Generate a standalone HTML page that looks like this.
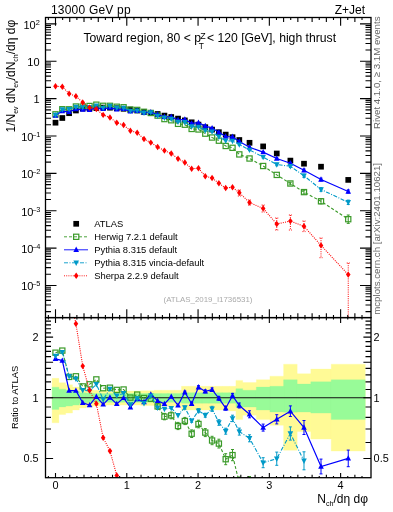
<!DOCTYPE html><html><head><meta charset="utf-8"><style>
html,body{margin:0;padding:0;background:#fff;overflow:hidden;}
svg{display:block;font-family:"Liberation Sans", sans-serif;will-change:transform;}
</style></head><body><svg width="393" height="512" viewBox="0 0 393 512"><defs><clipPath id="cu"><rect x="45.5" y="17.5" width="325.5" height="300.1"/></clipPath><clipPath id="cr"><rect x="45.5" y="317.6" width="325.5" height="160.09999999999997"/></clipPath></defs><path d="M52.10,378.33H58.90V422.75H52.10ZM58.90,382.72H65.71V414.54H58.90ZM65.71,384.81H72.52V413.07H65.71ZM72.52,387.10H79.33V409.99H72.52ZM79.33,388.66H86.14V408.00H79.33ZM86.14,389.46H92.94V407.02H86.14ZM92.94,390.25H99.75V406.06H92.94ZM99.75,390.66H106.56V405.58H99.75ZM106.56,391.06H113.37V405.10H106.56ZM113.37,391.06H120.18V405.10H113.37ZM120.18,391.06H126.98V405.10H120.18ZM126.98,391.06H133.79V405.10H126.98ZM133.79,391.06H140.60V405.10H133.79ZM140.60,390.66H147.41V405.58H140.60ZM147.41,390.66H154.22V405.58H147.41ZM154.22,390.25H161.02V406.06H154.22ZM161.02,390.25H167.83V406.06H161.02ZM167.83,390.25H174.64V406.06H167.83ZM174.64,390.25H181.45V406.06H174.64ZM181.45,386.33H188.26V409.99H181.45ZM188.26,386.33H195.06V409.99H188.26ZM195.06,386.33H201.87V409.99H195.06ZM201.87,386.33H208.68V409.99H201.87ZM208.68,386.33H215.49V409.99H208.68ZM215.49,386.33H222.30V409.99H215.49ZM222.30,386.33H229.10V409.99H222.30ZM229.10,386.33H235.91V411.01H229.10ZM235.91,380.39H242.72V419.55H235.91ZM242.72,382.57H256.34V415.18H242.72ZM256.34,379.68H269.95V419.55H256.34ZM269.95,376.19H283.57V425.35H269.95ZM283.57,364.19H297.18V450.30H283.57ZM297.18,373.63H310.80V431.57H297.18ZM310.80,369.09H331.22V439.09H310.80ZM331.22,364.19H365.27V451.10H331.22Z" fill="#fffa96" stroke="#fffa96" stroke-width="0.3" clip-path="url(#cr)"/><path d="M52.10,387.18H58.90V409.39H52.10ZM58.90,389.14H65.71V406.93H58.90ZM65.71,390.25H72.52V406.06H65.71ZM72.52,391.06H79.33V405.10H72.52ZM79.33,392.70H86.14V403.22H79.33ZM86.14,393.11H92.94V402.75H86.14ZM92.94,393.53H99.75V402.29H92.94ZM99.75,393.53H106.56V402.29H99.75ZM106.56,393.53H113.37V402.29H106.56ZM113.37,393.53H120.18V402.29H113.37ZM120.18,393.53H126.98V402.29H120.18ZM126.98,393.53H133.79V402.29H126.98ZM133.79,393.53H140.60V402.29H133.79ZM140.60,393.53H147.41V402.29H140.60ZM147.41,393.53H154.22V402.29H147.41ZM154.22,393.53H161.02V402.29H154.22ZM161.02,393.53H167.83V402.29H161.02ZM167.83,393.53H174.64V402.29H167.83ZM174.64,393.53H181.45V402.29H174.64ZM181.45,392.70H188.26V403.22H181.45ZM188.26,392.70H195.06V403.22H188.26ZM195.06,392.70H201.87V403.22H195.06ZM201.87,392.70H208.68V403.22H201.87ZM208.68,392.70H215.49V403.22H208.68ZM215.49,392.70H222.30V403.22H215.49ZM222.30,392.70H229.10V403.22H222.30ZM229.10,392.70H235.91V403.22H229.10ZM235.91,388.66H242.72V407.02H235.91ZM242.72,390.25H256.34V407.02H242.72ZM256.34,387.10H269.95V409.99H256.34ZM269.95,386.33H283.57V412.03H269.95ZM283.57,379.82H297.18V412.13H283.57ZM297.18,384.05H310.80V412.03H297.18ZM310.80,381.84H331.22V413.07H310.80ZM331.22,379.82H365.27V419.55H331.22Z" fill="#98fb98" stroke="#98fb98" stroke-width="0.3" clip-path="url(#cr)"/><path d="M45.5,397.80H371.0" stroke="#111" stroke-width="1.1"/><g clip-path="url(#cu)"><rect x="52.65" y="119.85" width="5.7" height="5.7" fill="#000"/><rect x="59.46" y="115.15" width="5.7" height="5.7" fill="#000"/><rect x="66.27" y="110.35" width="5.7" height="5.7" fill="#000"/><rect x="73.07" y="107.65" width="5.7" height="5.7" fill="#000"/><rect x="79.88" y="105.75" width="5.7" height="5.7" fill="#000"/><rect x="86.69" y="105.65" width="5.7" height="5.7" fill="#000"/><rect x="93.50" y="105.25" width="5.7" height="5.7" fill="#000"/><rect x="100.31" y="104.75" width="5.7" height="5.7" fill="#000"/><rect x="107.11" y="104.85" width="5.7" height="5.7" fill="#000"/><rect x="113.92" y="105.35" width="5.7" height="5.7" fill="#000"/><rect x="120.73" y="105.95" width="5.7" height="5.7" fill="#000"/><rect x="127.54" y="106.75" width="5.7" height="5.7" fill="#000"/><rect x="134.35" y="107.65" width="5.7" height="5.7" fill="#000"/><rect x="141.15" y="108.95" width="5.7" height="5.7" fill="#000"/><rect x="147.96" y="109.95" width="5.7" height="5.7" fill="#000"/><rect x="154.77" y="111.15" width="5.7" height="5.7" fill="#000"/><rect x="161.58" y="112.75" width="5.7" height="5.7" fill="#000"/><rect x="168.39" y="114.15" width="5.7" height="5.7" fill="#000"/><rect x="175.19" y="115.75" width="5.7" height="5.7" fill="#000"/><rect x="182.00" y="117.55" width="5.7" height="5.7" fill="#000"/><rect x="188.81" y="119.45" width="5.7" height="5.7" fill="#000"/><rect x="195.62" y="121.75" width="5.7" height="5.7" fill="#000"/><rect x="202.43" y="124.35" width="5.7" height="5.7" fill="#000"/><rect x="209.23" y="126.75" width="5.7" height="5.7" fill="#000"/><rect x="216.04" y="129.35" width="5.7" height="5.7" fill="#000"/><rect x="222.85" y="131.75" width="5.7" height="5.7" fill="#000"/><rect x="229.66" y="134.35" width="5.7" height="5.7" fill="#000"/><rect x="236.47" y="137.15" width="5.7" height="5.7" fill="#000"/><rect x="246.68" y="139.95" width="5.7" height="5.7" fill="#000"/><rect x="260.29" y="143.55" width="5.7" height="5.7" fill="#000"/><rect x="273.91" y="150.65" width="5.7" height="5.7" fill="#000"/><rect x="287.53" y="157.75" width="5.7" height="5.7" fill="#000"/><rect x="301.14" y="160.85" width="5.7" height="5.7" fill="#000"/><rect x="318.16" y="163.85" width="5.7" height="5.7" fill="#000"/><rect x="345.39" y="177.05" width="5.7" height="5.7" fill="#000"/></g><g clip-path="url(#cu)"><path d="M55.50,114.34L62.31,109.25L69.12,109.33L75.92,106.51L82.73,106.49L89.54,106.00L96.35,104.69L103.16,105.82L109.96,105.83L116.77,106.74L123.58,107.26L130.39,109.56L137.20,109.91L144.00,111.84L150.81,112.99L157.62,115.59L164.43,119.08L171.24,120.26L178.04,123.83L184.85,124.70L191.66,128.95L198.47,129.46L205.28,133.65L212.08,137.52L218.89,140.69L225.70,145.98L232.51,147.82L239.32,154.40L249.53,158.50L263.14,166.00L276.76,174.90L290.38,183.50L303.99,192.10L321.01,201.30L348.24,219.20" fill="none" stroke="#3a9a28" stroke-width="1.1" stroke-dasharray="3,2"/><path d="M348.24,215.00V223.40M346.74,215.00h3M346.74,223.40h3M321.01,198.80V203.80M319.51,198.80h3M319.51,203.80h3M303.99,190.30V193.90M302.49,190.30h3M302.49,193.90h3M290.38,182.20V184.80M288.88,182.20h3M288.88,184.80h3" stroke="#3a9a28" stroke-width="1" fill="none"/><rect x="52.90" y="111.74" width="5.2" height="5.2" fill="none" stroke="#3a9a28" stroke-width="1.2"/><rect x="59.71" y="106.65" width="5.2" height="5.2" fill="none" stroke="#3a9a28" stroke-width="1.2"/><rect x="66.52" y="106.73" width="5.2" height="5.2" fill="none" stroke="#3a9a28" stroke-width="1.2"/><rect x="73.32" y="103.91" width="5.2" height="5.2" fill="none" stroke="#3a9a28" stroke-width="1.2"/><rect x="80.13" y="103.89" width="5.2" height="5.2" fill="none" stroke="#3a9a28" stroke-width="1.2"/><rect x="86.94" y="103.40" width="5.2" height="5.2" fill="none" stroke="#3a9a28" stroke-width="1.2"/><rect x="93.75" y="102.09" width="5.2" height="5.2" fill="none" stroke="#3a9a28" stroke-width="1.2"/><rect x="100.56" y="103.22" width="5.2" height="5.2" fill="none" stroke="#3a9a28" stroke-width="1.2"/><rect x="107.36" y="103.23" width="5.2" height="5.2" fill="none" stroke="#3a9a28" stroke-width="1.2"/><rect x="114.17" y="104.14" width="5.2" height="5.2" fill="none" stroke="#3a9a28" stroke-width="1.2"/><rect x="120.98" y="104.66" width="5.2" height="5.2" fill="none" stroke="#3a9a28" stroke-width="1.2"/><rect x="127.79" y="106.96" width="5.2" height="5.2" fill="none" stroke="#3a9a28" stroke-width="1.2"/><rect x="134.60" y="107.31" width="5.2" height="5.2" fill="none" stroke="#3a9a28" stroke-width="1.2"/><rect x="141.40" y="109.24" width="5.2" height="5.2" fill="none" stroke="#3a9a28" stroke-width="1.2"/><rect x="148.21" y="110.39" width="5.2" height="5.2" fill="none" stroke="#3a9a28" stroke-width="1.2"/><rect x="155.02" y="112.99" width="5.2" height="5.2" fill="none" stroke="#3a9a28" stroke-width="1.2"/><rect x="161.83" y="116.48" width="5.2" height="5.2" fill="none" stroke="#3a9a28" stroke-width="1.2"/><rect x="168.64" y="117.66" width="5.2" height="5.2" fill="none" stroke="#3a9a28" stroke-width="1.2"/><rect x="175.44" y="121.23" width="5.2" height="5.2" fill="none" stroke="#3a9a28" stroke-width="1.2"/><rect x="182.25" y="122.10" width="5.2" height="5.2" fill="none" stroke="#3a9a28" stroke-width="1.2"/><rect x="189.06" y="126.35" width="5.2" height="5.2" fill="none" stroke="#3a9a28" stroke-width="1.2"/><rect x="195.87" y="126.86" width="5.2" height="5.2" fill="none" stroke="#3a9a28" stroke-width="1.2"/><rect x="202.68" y="131.05" width="5.2" height="5.2" fill="none" stroke="#3a9a28" stroke-width="1.2"/><rect x="209.48" y="134.92" width="5.2" height="5.2" fill="none" stroke="#3a9a28" stroke-width="1.2"/><rect x="216.29" y="138.09" width="5.2" height="5.2" fill="none" stroke="#3a9a28" stroke-width="1.2"/><rect x="223.10" y="143.38" width="5.2" height="5.2" fill="none" stroke="#3a9a28" stroke-width="1.2"/><rect x="229.91" y="145.22" width="5.2" height="5.2" fill="none" stroke="#3a9a28" stroke-width="1.2"/><rect x="236.72" y="151.80" width="5.2" height="5.2" fill="none" stroke="#3a9a28" stroke-width="1.2"/><rect x="246.93" y="155.90" width="5.2" height="5.2" fill="none" stroke="#3a9a28" stroke-width="1.2"/><rect x="260.54" y="163.40" width="5.2" height="5.2" fill="none" stroke="#3a9a28" stroke-width="1.2"/><rect x="274.16" y="172.30" width="5.2" height="5.2" fill="none" stroke="#3a9a28" stroke-width="1.2"/><rect x="287.78" y="180.90" width="5.2" height="5.2" fill="none" stroke="#3a9a28" stroke-width="1.2"/><rect x="301.39" y="189.50" width="5.2" height="5.2" fill="none" stroke="#3a9a28" stroke-width="1.2"/><rect x="318.41" y="198.70" width="5.2" height="5.2" fill="none" stroke="#3a9a28" stroke-width="1.2"/><rect x="345.64" y="216.60" width="5.2" height="5.2" fill="none" stroke="#3a9a28" stroke-width="1.2"/></g><g clip-path="url(#cu)"><path d="M55.50,115.47L62.31,111.10L69.12,111.87L75.92,109.17L82.73,109.53L89.54,109.85L96.35,107.90L103.16,108.82L109.96,107.64L116.77,109.33L123.58,108.82L130.39,111.36L137.20,110.74L144.00,112.58L150.81,112.17L157.62,114.54L164.43,116.73L171.24,116.78L178.04,120.01L184.85,119.38L191.66,123.39L198.47,122.64L205.28,126.01L212.08,128.10L218.89,132.31L225.70,136.53L232.51,136.79L239.32,141.40L249.53,147.30L263.14,152.10L276.76,158.50L290.38,163.30L303.99,170.30L321.01,179.50L348.24,191.50" fill="none" stroke="#0000ff" stroke-width="1.2"/><path d="M249.53,146.65V147.95M248.03,146.65h3M248.03,147.95h3M263.14,151.45V152.75M261.64,151.45h3M261.64,152.75h3M276.76,157.65V159.35M275.26,157.65h3M275.26,159.35h3M290.38,162.32V164.28M288.88,162.32h3M288.88,164.28h3M303.99,169.01V171.59M302.49,169.01h3M302.49,171.59h3M321.01,178.13V180.87M319.51,178.13h3M319.51,180.87h3M348.24,189.96V193.04M346.74,189.96h3M346.74,193.04h3" stroke="#0000ff" stroke-width="1" fill="none"/><path d="M55.50,112.27L58.30,117.67H52.70Z" fill="#0000ff"/><path d="M62.31,107.90L65.11,113.30H59.51Z" fill="#0000ff"/><path d="M69.12,108.67L71.92,114.07H66.32Z" fill="#0000ff"/><path d="M75.92,105.97L78.72,111.37H73.12Z" fill="#0000ff"/><path d="M82.73,106.33L85.53,111.73H79.93Z" fill="#0000ff"/><path d="M89.54,106.65L92.34,112.05H86.74Z" fill="#0000ff"/><path d="M96.35,104.70L99.15,110.10H93.55Z" fill="#0000ff"/><path d="M103.16,105.62L105.96,111.02H100.36Z" fill="#0000ff"/><path d="M109.96,104.44L112.76,109.84H107.16Z" fill="#0000ff"/><path d="M116.77,106.13L119.57,111.53H113.97Z" fill="#0000ff"/><path d="M123.58,105.62L126.38,111.02H120.78Z" fill="#0000ff"/><path d="M130.39,108.16L133.19,113.56H127.59Z" fill="#0000ff"/><path d="M137.20,107.54L140.00,112.94H134.40Z" fill="#0000ff"/><path d="M144.00,109.38L146.80,114.78H141.20Z" fill="#0000ff"/><path d="M150.81,108.97L153.61,114.37H148.01Z" fill="#0000ff"/><path d="M157.62,111.34L160.42,116.74H154.82Z" fill="#0000ff"/><path d="M164.43,113.53L167.23,118.93H161.63Z" fill="#0000ff"/><path d="M171.24,113.58L174.04,118.98H168.44Z" fill="#0000ff"/><path d="M178.04,116.81L180.84,122.21H175.24Z" fill="#0000ff"/><path d="M184.85,116.18L187.65,121.58H182.05Z" fill="#0000ff"/><path d="M191.66,120.19L194.46,125.59H188.86Z" fill="#0000ff"/><path d="M198.47,119.44L201.27,124.84H195.67Z" fill="#0000ff"/><path d="M205.28,122.81L208.08,128.21H202.48Z" fill="#0000ff"/><path d="M212.08,124.90L214.88,130.30H209.28Z" fill="#0000ff"/><path d="M218.89,129.11L221.69,134.51H216.09Z" fill="#0000ff"/><path d="M225.70,133.33L228.50,138.73H222.90Z" fill="#0000ff"/><path d="M232.51,133.59L235.31,138.99H229.71Z" fill="#0000ff"/><path d="M239.32,138.20L242.12,143.60H236.52Z" fill="#0000ff"/><path d="M249.53,144.10L252.33,149.50H246.73Z" fill="#0000ff"/><path d="M263.14,148.90L265.94,154.30H260.34Z" fill="#0000ff"/><path d="M276.76,155.30L279.56,160.70H273.96Z" fill="#0000ff"/><path d="M290.38,160.10L293.18,165.50H287.58Z" fill="#0000ff"/><path d="M303.99,167.10L306.79,172.50H301.19Z" fill="#0000ff"/><path d="M321.01,176.30L323.81,181.70H318.21Z" fill="#0000ff"/><path d="M348.24,188.30L351.04,193.70H345.44Z" fill="#0000ff"/></g><g clip-path="url(#cu)"><path d="M55.50,114.93L62.31,109.53L69.12,109.21L75.92,106.98L82.73,107.21L89.54,107.22L96.35,105.60L103.16,107.90L109.96,106.07L116.77,107.79L123.58,107.97L130.39,110.84L137.20,110.63L144.00,112.82L150.81,112.39L157.62,115.84L164.43,117.68L171.24,118.91L178.04,121.83L184.85,122.20L191.66,126.56L198.47,126.99L205.28,130.43L212.08,131.64L218.89,136.78L225.70,140.79L232.51,141.02L239.32,144.60L249.53,149.90L263.14,157.10L276.76,164.50L290.38,166.30L303.99,175.80L321.01,189.50L348.24,202.30" fill="none" stroke="#0099c8" stroke-width="1.1" stroke-dasharray="4,1.5,1,1.5"/><path d="M239.32,143.95V145.25M237.82,143.95h3M237.82,145.25h3M249.53,149.25V150.55M248.03,149.25h3M248.03,150.55h3M263.14,156.17V158.03M261.64,156.17h3M261.64,158.03h3M276.76,163.28V165.72M275.26,163.28h3M275.26,165.72h3M290.38,165.08V167.52M288.88,165.08h3M288.88,167.52h3M303.99,174.14V177.47M302.49,174.14h3M302.49,177.47h3M321.01,187.65V191.35M319.51,187.65h3M319.51,191.35h3M348.24,200.08V204.52M346.74,200.08h3M346.74,204.52h3" stroke="#0099c8" stroke-width="1" fill="none"/><path d="M55.50,118.13L58.30,112.73H52.70Z" fill="#0099c8"/><path d="M62.31,112.73L65.11,107.33H59.51Z" fill="#0099c8"/><path d="M69.12,112.41L71.92,107.01H66.32Z" fill="#0099c8"/><path d="M75.92,110.18L78.72,104.78H73.12Z" fill="#0099c8"/><path d="M82.73,110.41L85.53,105.01H79.93Z" fill="#0099c8"/><path d="M89.54,110.42L92.34,105.02H86.74Z" fill="#0099c8"/><path d="M96.35,108.80L99.15,103.40H93.55Z" fill="#0099c8"/><path d="M103.16,111.10L105.96,105.70H100.36Z" fill="#0099c8"/><path d="M109.96,109.27L112.76,103.87H107.16Z" fill="#0099c8"/><path d="M116.77,110.99L119.57,105.59H113.97Z" fill="#0099c8"/><path d="M123.58,111.17L126.38,105.77H120.78Z" fill="#0099c8"/><path d="M130.39,114.04L133.19,108.64H127.59Z" fill="#0099c8"/><path d="M137.20,113.83L140.00,108.43H134.40Z" fill="#0099c8"/><path d="M144.00,116.02L146.80,110.62H141.20Z" fill="#0099c8"/><path d="M150.81,115.59L153.61,110.19H148.01Z" fill="#0099c8"/><path d="M157.62,119.04L160.42,113.64H154.82Z" fill="#0099c8"/><path d="M164.43,120.88L167.23,115.48H161.63Z" fill="#0099c8"/><path d="M171.24,122.11L174.04,116.71H168.44Z" fill="#0099c8"/><path d="M178.04,125.03L180.84,119.63H175.24Z" fill="#0099c8"/><path d="M184.85,125.40L187.65,120.00H182.05Z" fill="#0099c8"/><path d="M191.66,129.76L194.46,124.36H188.86Z" fill="#0099c8"/><path d="M198.47,130.19L201.27,124.79H195.67Z" fill="#0099c8"/><path d="M205.28,133.63L208.08,128.23H202.48Z" fill="#0099c8"/><path d="M212.08,134.84L214.88,129.44H209.28Z" fill="#0099c8"/><path d="M218.89,139.98L221.69,134.58H216.09Z" fill="#0099c8"/><path d="M225.70,143.99L228.50,138.59H222.90Z" fill="#0099c8"/><path d="M232.51,144.22L235.31,138.82H229.71Z" fill="#0099c8"/><path d="M239.32,147.80L242.12,142.40H236.52Z" fill="#0099c8"/><path d="M249.53,153.10L252.33,147.70H246.73Z" fill="#0099c8"/><path d="M263.14,160.30L265.94,154.90H260.34Z" fill="#0099c8"/><path d="M276.76,167.70L279.56,162.30H273.96Z" fill="#0099c8"/><path d="M290.38,169.50L293.18,164.10H287.58Z" fill="#0099c8"/><path d="M303.99,179.00L306.79,173.60H301.19Z" fill="#0099c8"/><path d="M321.01,192.70L323.81,187.30H318.21Z" fill="#0099c8"/><path d="M348.24,205.50L351.04,200.10H345.44Z" fill="#0099c8"/></g><g clip-path="url(#cu)"><path d="M55.50,86.20L62.31,86.70L69.12,93.70L75.92,96.30L82.73,102.50L89.54,107.60L96.35,109.10L103.16,114.90L109.96,117.50L116.77,122.70L123.58,125.00L130.39,130.70L137.20,132.80L144.00,139.00L150.81,142.60L157.62,147.00L164.43,150.60L171.24,153.50L178.04,158.80L184.85,162.50L191.66,168.70L198.47,168.20L205.28,176.20L212.08,178.00L218.89,183.30L225.70,188.00L232.51,187.30L239.32,192.80L249.53,202.60L263.14,208.40L276.76,224.00L290.38,221.10L303.99,226.30L321.01,245.40L348.24,274.60" fill="none" stroke="#ff0000" stroke-width="1.1" stroke-dasharray="1,1.2"/><path d="M276.76,218V230M275.26,218h3M275.26,230h3M290.38,215V230M288.88,215h3M288.88,230h3M303.99,221V231.6M302.49,221h3M302.49,231.6h3M321.01,238V257.7M319.51,238h3M319.51,257.7h3M348.24,263V320M346.74,263h3M346.74,320h3M263.14,205V212M261.64,205h3M261.64,212h3M249.53,200V205M248.03,200h3M248.03,205h3M239.32,190V196M237.82,190h3M237.82,196h3" stroke="#ff0000" stroke-width="1" fill="none" stroke-dasharray="1,1.2"/><path d="M55.50,83.00L57.80,86.20L55.50,89.40L53.20,86.20Z" fill="#ff0000"/><path d="M62.31,83.50L64.61,86.70L62.31,89.90L60.01,86.70Z" fill="#ff0000"/><path d="M69.12,90.50L71.42,93.70L69.12,96.90L66.82,93.70Z" fill="#ff0000"/><path d="M75.92,93.10L78.22,96.30L75.92,99.50L73.62,96.30Z" fill="#ff0000"/><path d="M82.73,99.30L85.03,102.50L82.73,105.70L80.43,102.50Z" fill="#ff0000"/><path d="M89.54,104.40L91.84,107.60L89.54,110.80L87.24,107.60Z" fill="#ff0000"/><path d="M96.35,105.90L98.65,109.10L96.35,112.30L94.05,109.10Z" fill="#ff0000"/><path d="M103.16,111.70L105.46,114.90L103.16,118.10L100.86,114.90Z" fill="#ff0000"/><path d="M109.96,114.30L112.26,117.50L109.96,120.70L107.66,117.50Z" fill="#ff0000"/><path d="M116.77,119.50L119.07,122.70L116.77,125.90L114.47,122.70Z" fill="#ff0000"/><path d="M123.58,121.80L125.88,125.00L123.58,128.20L121.28,125.00Z" fill="#ff0000"/><path d="M130.39,127.50L132.69,130.70L130.39,133.90L128.09,130.70Z" fill="#ff0000"/><path d="M137.20,129.60L139.50,132.80L137.20,136.00L134.90,132.80Z" fill="#ff0000"/><path d="M144.00,135.80L146.30,139.00L144.00,142.20L141.70,139.00Z" fill="#ff0000"/><path d="M150.81,139.40L153.11,142.60L150.81,145.80L148.51,142.60Z" fill="#ff0000"/><path d="M157.62,143.80L159.92,147.00L157.62,150.20L155.32,147.00Z" fill="#ff0000"/><path d="M164.43,147.40L166.73,150.60L164.43,153.80L162.13,150.60Z" fill="#ff0000"/><path d="M171.24,150.30L173.54,153.50L171.24,156.70L168.94,153.50Z" fill="#ff0000"/><path d="M178.04,155.60L180.34,158.80L178.04,162.00L175.74,158.80Z" fill="#ff0000"/><path d="M184.85,159.30L187.15,162.50L184.85,165.70L182.55,162.50Z" fill="#ff0000"/><path d="M191.66,165.50L193.96,168.70L191.66,171.90L189.36,168.70Z" fill="#ff0000"/><path d="M198.47,165.00L200.77,168.20L198.47,171.40L196.17,168.20Z" fill="#ff0000"/><path d="M205.28,173.00L207.58,176.20L205.28,179.40L202.98,176.20Z" fill="#ff0000"/><path d="M212.08,174.80L214.38,178.00L212.08,181.20L209.78,178.00Z" fill="#ff0000"/><path d="M218.89,180.10L221.19,183.30L218.89,186.50L216.59,183.30Z" fill="#ff0000"/><path d="M225.70,184.80L228.00,188.00L225.70,191.20L223.40,188.00Z" fill="#ff0000"/><path d="M232.51,184.10L234.81,187.30L232.51,190.50L230.21,187.30Z" fill="#ff0000"/><path d="M239.32,189.60L241.62,192.80L239.32,196.00L237.02,192.80Z" fill="#ff0000"/><path d="M249.53,199.40L251.83,202.60L249.53,205.80L247.23,202.60Z" fill="#ff0000"/><path d="M263.14,205.20L265.44,208.40L263.14,211.60L260.84,208.40Z" fill="#ff0000"/><path d="M276.76,220.80L279.06,224.00L276.76,227.20L274.46,224.00Z" fill="#ff0000"/><path d="M290.38,217.90L292.68,221.10L290.38,224.30L288.08,221.10Z" fill="#ff0000"/><path d="M303.99,223.10L306.29,226.30L303.99,229.50L301.69,226.30Z" fill="#ff0000"/><path d="M321.01,242.20L323.31,245.40L321.01,248.60L318.71,245.40Z" fill="#ff0000"/><path d="M348.24,271.40L350.54,274.60L348.24,277.80L345.94,274.60Z" fill="#ff0000"/></g><g clip-path="url(#cr)"><path d="M55.50,352.70L62.31,350.60L69.12,376.90L75.92,376.30L82.73,386.40L89.54,384.30L96.35,379.40L103.16,388.20L109.96,387.70L116.77,389.90L123.58,389.50L130.39,397.60L137.20,394.60L144.00,398.00L150.81,398.80L157.62,406.40L164.43,416.60L171.24,415.40L178.04,426.00L184.85,421.00L191.66,433.70L198.47,424.00L205.28,432.60L212.08,440.50L218.89,443.60L225.70,459.20L232.51,455.10L239.32,483.00L249.53,482.50L263.14,503.54L276.76,513.25L290.38,521.34L303.99,551.01L321.01,584.46L348.24,609.81" fill="none" stroke="#3a9a28" stroke-width="1.1" stroke-dasharray="3,2"/><path d="M157.62,403.40V409.40M156.12,403.40h3M156.12,409.40h3M164.43,413.40V419.80M162.93,413.40h3M162.93,419.80h3M171.24,412.00V418.80M169.74,412.00h3M169.74,418.80h3M178.04,422.40V429.60M176.54,422.40h3M176.54,429.60h3M184.85,417.40V424.60M183.35,417.40h3M183.35,424.60h3M191.66,429.90V437.50M190.16,429.90h3M190.16,437.50h3M198.47,420.20V427.80M196.97,420.20h3M196.97,427.80h3M205.28,428.60V436.60M203.78,428.60h3M203.78,436.60h3M212.08,436.30V444.70M210.58,436.30h3M210.58,444.70h3M218.89,439.20V448.00M217.39,439.20h3M217.39,448.00h3M225.70,453.70V464.70M224.20,453.70h3M224.20,464.70h3M232.51,449.50V460.70M231.01,449.50h3M231.01,460.70h3M239.32,477.00V489.00M237.82,477.00h3M237.82,489.00h3M249.53,476.50V488.50M248.03,476.50h3M248.03,488.50h3M263.14,497.54V509.54M261.64,497.54h3M261.64,509.54h3M276.76,507.25V519.25M275.26,507.25h3M275.26,519.25h3M290.38,514.34V528.34M288.88,514.34h3M288.88,528.34h3M303.99,541.01V561.01M302.49,541.01h3M302.49,561.01h3M321.01,570.46V598.46M319.51,570.46h3M319.51,598.46h3M348.24,587.81V631.81M346.74,587.81h3M346.74,631.81h3" stroke="#3a9a28" stroke-width="1" fill="none"/><rect x="52.90" y="350.10" width="5.2" height="5.2" fill="none" stroke="#3a9a28" stroke-width="1.2"/><rect x="59.71" y="348.00" width="5.2" height="5.2" fill="none" stroke="#3a9a28" stroke-width="1.2"/><rect x="66.52" y="374.30" width="5.2" height="5.2" fill="none" stroke="#3a9a28" stroke-width="1.2"/><rect x="73.32" y="373.70" width="5.2" height="5.2" fill="none" stroke="#3a9a28" stroke-width="1.2"/><rect x="80.13" y="383.80" width="5.2" height="5.2" fill="none" stroke="#3a9a28" stroke-width="1.2"/><rect x="86.94" y="381.70" width="5.2" height="5.2" fill="none" stroke="#3a9a28" stroke-width="1.2"/><rect x="93.75" y="376.80" width="5.2" height="5.2" fill="none" stroke="#3a9a28" stroke-width="1.2"/><rect x="100.56" y="385.60" width="5.2" height="5.2" fill="none" stroke="#3a9a28" stroke-width="1.2"/><rect x="107.36" y="385.10" width="5.2" height="5.2" fill="none" stroke="#3a9a28" stroke-width="1.2"/><rect x="114.17" y="387.30" width="5.2" height="5.2" fill="none" stroke="#3a9a28" stroke-width="1.2"/><rect x="120.98" y="386.90" width="5.2" height="5.2" fill="none" stroke="#3a9a28" stroke-width="1.2"/><rect x="127.79" y="395.00" width="5.2" height="5.2" fill="none" stroke="#3a9a28" stroke-width="1.2"/><rect x="134.60" y="392.00" width="5.2" height="5.2" fill="none" stroke="#3a9a28" stroke-width="1.2"/><rect x="141.40" y="395.40" width="5.2" height="5.2" fill="none" stroke="#3a9a28" stroke-width="1.2"/><rect x="148.21" y="396.20" width="5.2" height="5.2" fill="none" stroke="#3a9a28" stroke-width="1.2"/><rect x="155.02" y="403.80" width="5.2" height="5.2" fill="none" stroke="#3a9a28" stroke-width="1.2"/><rect x="161.83" y="414.00" width="5.2" height="5.2" fill="none" stroke="#3a9a28" stroke-width="1.2"/><rect x="168.64" y="412.80" width="5.2" height="5.2" fill="none" stroke="#3a9a28" stroke-width="1.2"/><rect x="175.44" y="423.40" width="5.2" height="5.2" fill="none" stroke="#3a9a28" stroke-width="1.2"/><rect x="182.25" y="418.40" width="5.2" height="5.2" fill="none" stroke="#3a9a28" stroke-width="1.2"/><rect x="189.06" y="431.10" width="5.2" height="5.2" fill="none" stroke="#3a9a28" stroke-width="1.2"/><rect x="195.87" y="421.40" width="5.2" height="5.2" fill="none" stroke="#3a9a28" stroke-width="1.2"/><rect x="202.68" y="430.00" width="5.2" height="5.2" fill="none" stroke="#3a9a28" stroke-width="1.2"/><rect x="209.48" y="437.90" width="5.2" height="5.2" fill="none" stroke="#3a9a28" stroke-width="1.2"/><rect x="216.29" y="441.00" width="5.2" height="5.2" fill="none" stroke="#3a9a28" stroke-width="1.2"/><rect x="223.10" y="456.60" width="5.2" height="5.2" fill="none" stroke="#3a9a28" stroke-width="1.2"/><rect x="229.91" y="452.50" width="5.2" height="5.2" fill="none" stroke="#3a9a28" stroke-width="1.2"/><rect x="236.72" y="480.40" width="5.2" height="5.2" fill="none" stroke="#3a9a28" stroke-width="1.2"/><rect x="246.93" y="479.90" width="5.2" height="5.2" fill="none" stroke="#3a9a28" stroke-width="1.2"/><rect x="260.54" y="500.94" width="5.2" height="5.2" fill="none" stroke="#3a9a28" stroke-width="1.2"/><rect x="274.16" y="510.65" width="5.2" height="5.2" fill="none" stroke="#3a9a28" stroke-width="1.2"/><rect x="287.78" y="518.74" width="5.2" height="5.2" fill="none" stroke="#3a9a28" stroke-width="1.2"/><rect x="301.39" y="548.41" width="5.2" height="5.2" fill="none" stroke="#3a9a28" stroke-width="1.2"/><rect x="318.41" y="581.86" width="5.2" height="5.2" fill="none" stroke="#3a9a28" stroke-width="1.2"/><rect x="345.64" y="607.21" width="5.2" height="5.2" fill="none" stroke="#3a9a28" stroke-width="1.2"/></g><g clip-path="url(#cr)"><path d="M55.50,358.80L62.31,360.60L69.12,390.60L75.92,390.60L82.73,402.80L89.54,405.10L96.35,396.70L103.16,404.40L109.96,397.50L116.77,403.90L123.58,397.90L130.39,407.30L137.20,399.10L144.00,402.00L150.81,394.40L157.62,400.70L164.43,403.90L171.24,396.60L178.04,405.40L184.85,392.30L191.66,403.70L198.47,387.20L205.28,391.40L212.08,389.70L218.89,398.40L225.70,408.20L232.51,395.60L239.32,405.50L249.53,414.30L263.14,427.60L276.76,419.30L290.38,411.20L303.99,427.50L321.01,466.50L348.24,458.40" fill="none" stroke="#0000ff" stroke-width="1.2"/><path d="M184.85,391.10V393.50M183.35,391.10h3M183.35,393.50h3M191.66,402.50V404.90M190.16,402.50h3M190.16,404.90h3M198.47,385.70V388.70M196.97,385.70h3M196.97,388.70h3M205.28,389.90V392.90M203.78,389.90h3M203.78,392.90h3M212.08,387.90V391.50M210.58,387.90h3M210.58,391.50h3M218.89,396.40V400.40M217.39,396.40h3M217.39,400.40h3M225.70,406.20V410.20M224.20,406.20h3M224.20,410.20h3M232.51,393.40V397.80M231.01,393.40h3M231.01,397.80h3M239.32,403.00V408.00M237.82,403.00h3M237.82,408.00h3M249.53,410.80V417.80M248.03,410.80h3M248.03,417.80h3M263.14,424.10V431.10M261.64,424.10h3M261.64,431.10h3M276.76,414.70V423.90M275.26,414.70h3M275.26,423.90h3M290.38,405.90V416.50M288.88,405.90h3M288.88,416.50h3M303.99,420.50V434.50M302.49,420.50h3M302.49,434.50h3M321.01,459.10V473.90M319.51,459.10h3M319.51,473.90h3M348.24,450.10V466.70M346.74,450.10h3M346.74,466.70h3" stroke="#0000ff" stroke-width="1" fill="none"/><path d="M55.50,355.60L58.30,361.00H52.70Z" fill="#0000ff"/><path d="M62.31,357.40L65.11,362.80H59.51Z" fill="#0000ff"/><path d="M69.12,387.40L71.92,392.80H66.32Z" fill="#0000ff"/><path d="M75.92,387.40L78.72,392.80H73.12Z" fill="#0000ff"/><path d="M82.73,399.60L85.53,405.00H79.93Z" fill="#0000ff"/><path d="M89.54,401.90L92.34,407.30H86.74Z" fill="#0000ff"/><path d="M96.35,393.50L99.15,398.90H93.55Z" fill="#0000ff"/><path d="M103.16,401.20L105.96,406.60H100.36Z" fill="#0000ff"/><path d="M109.96,394.30L112.76,399.70H107.16Z" fill="#0000ff"/><path d="M116.77,400.70L119.57,406.10H113.97Z" fill="#0000ff"/><path d="M123.58,394.70L126.38,400.10H120.78Z" fill="#0000ff"/><path d="M130.39,404.10L133.19,409.50H127.59Z" fill="#0000ff"/><path d="M137.20,395.90L140.00,401.30H134.40Z" fill="#0000ff"/><path d="M144.00,398.80L146.80,404.20H141.20Z" fill="#0000ff"/><path d="M150.81,391.20L153.61,396.60H148.01Z" fill="#0000ff"/><path d="M157.62,397.50L160.42,402.90H154.82Z" fill="#0000ff"/><path d="M164.43,400.70L167.23,406.10H161.63Z" fill="#0000ff"/><path d="M171.24,393.40L174.04,398.80H168.44Z" fill="#0000ff"/><path d="M178.04,402.20L180.84,407.60H175.24Z" fill="#0000ff"/><path d="M184.85,389.10L187.65,394.50H182.05Z" fill="#0000ff"/><path d="M191.66,400.50L194.46,405.90H188.86Z" fill="#0000ff"/><path d="M198.47,384.00L201.27,389.40H195.67Z" fill="#0000ff"/><path d="M205.28,388.20L208.08,393.60H202.48Z" fill="#0000ff"/><path d="M212.08,386.50L214.88,391.90H209.28Z" fill="#0000ff"/><path d="M218.89,395.20L221.69,400.60H216.09Z" fill="#0000ff"/><path d="M225.70,405.00L228.50,410.40H222.90Z" fill="#0000ff"/><path d="M232.51,392.40L235.31,397.80H229.71Z" fill="#0000ff"/><path d="M239.32,402.30L242.12,407.70H236.52Z" fill="#0000ff"/><path d="M249.53,411.10L252.33,416.50H246.73Z" fill="#0000ff"/><path d="M263.14,424.40L265.94,429.80H260.34Z" fill="#0000ff"/><path d="M276.76,416.10L279.56,421.50H273.96Z" fill="#0000ff"/><path d="M290.38,408.00L293.18,413.40H287.58Z" fill="#0000ff"/><path d="M303.99,424.30L306.79,429.70H301.19Z" fill="#0000ff"/><path d="M321.01,463.30L323.81,468.70H318.21Z" fill="#0000ff"/><path d="M348.24,455.20L351.04,460.60H345.44Z" fill="#0000ff"/></g><g clip-path="url(#cr)"><path d="M55.50,355.90L62.31,352.10L69.12,376.30L75.92,378.80L82.73,390.30L89.54,390.90L96.35,384.30L103.16,399.40L109.96,389.00L116.77,395.60L123.58,393.30L130.39,404.50L137.20,398.50L144.00,403.30L150.81,395.60L157.62,407.70L164.43,409.00L171.24,408.10L178.04,415.20L184.85,407.50L191.66,420.80L198.47,410.70L205.28,415.20L212.08,408.80L218.89,422.50L225.70,431.20L232.51,418.40L239.32,431.60L249.53,438.30L263.14,462.70L276.76,458.70L290.38,433.50L303.99,460.80" fill="none" stroke="#0099c8" stroke-width="1.1" stroke-dasharray="4,1.5,1,1.5"/><path d="M184.85,406.00V409.00M183.35,406.00h3M183.35,409.00h3M191.66,419.30V422.30M190.16,419.30h3M190.16,422.30h3M198.47,408.70V412.70M196.97,408.70h3M196.97,412.70h3M205.28,413.20V417.20M203.78,413.20h3M203.78,417.20h3M212.08,406.30V411.30M210.58,406.30h3M210.58,411.30h3M218.89,419.70V425.30M217.39,419.70h3M217.39,425.30h3M225.70,428.20V434.20M224.20,428.20h3M224.20,434.20h3M232.51,415.20V421.60M231.01,415.20h3M231.01,421.60h3M239.32,428.10V435.10M237.82,428.10h3M237.82,435.10h3M249.53,434.80V441.80M248.03,434.80h3M248.03,441.80h3M263.14,457.70V467.70M261.64,457.70h3M261.64,467.70h3M276.76,452.10V465.30M275.26,452.10h3M275.26,465.30h3M290.38,426.90V440.10M288.88,426.90h3M288.88,440.10h3M303.99,451.80V469.80M302.49,451.80h3M302.49,469.80h3" stroke="#0099c8" stroke-width="1" fill="none"/><path d="M55.50,359.10L58.30,353.70H52.70Z" fill="#0099c8"/><path d="M62.31,355.30L65.11,349.90H59.51Z" fill="#0099c8"/><path d="M69.12,379.50L71.92,374.10H66.32Z" fill="#0099c8"/><path d="M75.92,382.00L78.72,376.60H73.12Z" fill="#0099c8"/><path d="M82.73,393.50L85.53,388.10H79.93Z" fill="#0099c8"/><path d="M89.54,394.10L92.34,388.70H86.74Z" fill="#0099c8"/><path d="M96.35,387.50L99.15,382.10H93.55Z" fill="#0099c8"/><path d="M103.16,402.60L105.96,397.20H100.36Z" fill="#0099c8"/><path d="M109.96,392.20L112.76,386.80H107.16Z" fill="#0099c8"/><path d="M116.77,398.80L119.57,393.40H113.97Z" fill="#0099c8"/><path d="M123.58,396.50L126.38,391.10H120.78Z" fill="#0099c8"/><path d="M130.39,407.70L133.19,402.30H127.59Z" fill="#0099c8"/><path d="M137.20,401.70L140.00,396.30H134.40Z" fill="#0099c8"/><path d="M144.00,406.50L146.80,401.10H141.20Z" fill="#0099c8"/><path d="M150.81,398.80L153.61,393.40H148.01Z" fill="#0099c8"/><path d="M157.62,410.90L160.42,405.50H154.82Z" fill="#0099c8"/><path d="M164.43,412.20L167.23,406.80H161.63Z" fill="#0099c8"/><path d="M171.24,411.30L174.04,405.90H168.44Z" fill="#0099c8"/><path d="M178.04,418.40L180.84,413.00H175.24Z" fill="#0099c8"/><path d="M184.85,410.70L187.65,405.30H182.05Z" fill="#0099c8"/><path d="M191.66,424.00L194.46,418.60H188.86Z" fill="#0099c8"/><path d="M198.47,413.90L201.27,408.50H195.67Z" fill="#0099c8"/><path d="M205.28,418.40L208.08,413.00H202.48Z" fill="#0099c8"/><path d="M212.08,412.00L214.88,406.60H209.28Z" fill="#0099c8"/><path d="M218.89,425.70L221.69,420.30H216.09Z" fill="#0099c8"/><path d="M225.70,434.40L228.50,429.00H222.90Z" fill="#0099c8"/><path d="M232.51,421.60L235.31,416.20H229.71Z" fill="#0099c8"/><path d="M239.32,434.80L242.12,429.40H236.52Z" fill="#0099c8"/><path d="M249.53,441.50L252.33,436.10H246.73Z" fill="#0099c8"/><path d="M263.14,465.90L265.94,460.50H260.34Z" fill="#0099c8"/><path d="M276.76,461.90L279.56,456.50H273.96Z" fill="#0099c8"/><path d="M290.38,436.70L293.18,431.30H287.58Z" fill="#0099c8"/><path d="M303.99,464.00L306.79,458.60H301.19Z" fill="#0099c8"/></g><g clip-path="url(#cr)"><path d="M55.50,200.89L62.31,228.95L69.12,292.60L75.92,323.70L82.73,366.10L89.54,390.30L96.35,403.70L103.16,437.80L109.96,451.00L116.77,475.40L123.58,485.19L130.39,511.63L137.20,518.10" fill="none" stroke="#ff0000" stroke-width="1.1" stroke-dasharray="1,1.2"/><path d="M55.50,197.69L57.80,200.89L55.50,204.09L53.20,200.89Z" fill="#ff0000"/><path d="M62.31,225.75L64.61,228.95L62.31,232.15L60.01,228.95Z" fill="#ff0000"/><path d="M69.12,289.40L71.42,292.60L69.12,295.80L66.82,292.60Z" fill="#ff0000"/><path d="M75.92,320.50L78.22,323.70L75.92,326.90L73.62,323.70Z" fill="#ff0000"/><path d="M82.73,362.90L85.03,366.10L82.73,369.30L80.43,366.10Z" fill="#ff0000"/><path d="M89.54,387.10L91.84,390.30L89.54,393.50L87.24,390.30Z" fill="#ff0000"/><path d="M96.35,400.50L98.65,403.70L96.35,406.90L94.05,403.70Z" fill="#ff0000"/><path d="M103.16,434.60L105.46,437.80L103.16,441.00L100.86,437.80Z" fill="#ff0000"/><path d="M109.96,447.80L112.26,451.00L109.96,454.20L107.66,451.00Z" fill="#ff0000"/><path d="M116.77,472.20L119.07,475.40L116.77,478.60L114.47,475.40Z" fill="#ff0000"/><path d="M123.58,481.99L125.88,485.19L123.58,488.39L121.28,485.19Z" fill="#ff0000"/><path d="M130.39,508.43L132.69,511.63L130.39,514.83L128.09,511.63Z" fill="#ff0000"/><path d="M137.20,514.90L139.50,518.10L137.20,521.30L134.90,518.10Z" fill="#ff0000"/></g><rect x="45.5" y="17.5" width="325.5" height="300.1" fill="none" stroke="#000" stroke-width="1.3"/><rect x="45.5" y="317.6" width="325.5" height="160.09999999999997" fill="none" stroke="#000" stroke-width="1.3"/><path d="M48.37,17.5v2.5M55.50,17.5v8.3M62.63,17.5v2.5M69.76,17.5v4.4M76.88,17.5v2.5M84.01,17.5v4.4M91.14,17.5v2.5M98.27,17.5v4.4M105.40,17.5v2.5M112.52,17.5v4.4M119.65,17.5v2.5M126.78,17.5v8.3M133.91,17.5v2.5M141.04,17.5v4.4M148.16,17.5v2.5M155.29,17.5v4.4M162.42,17.5v2.5M169.55,17.5v4.4M176.68,17.5v2.5M183.80,17.5v4.4M190.93,17.5v2.5M198.06,17.5v8.3M205.19,17.5v2.5M212.32,17.5v4.4M219.44,17.5v2.5M226.57,17.5v4.4M233.70,17.5v2.5M240.83,17.5v4.4M247.96,17.5v2.5M255.08,17.5v4.4M262.21,17.5v2.5M269.34,17.5v8.3M276.47,17.5v2.5M283.60,17.5v4.4M290.72,17.5v2.5M297.85,17.5v4.4M304.98,17.5v2.5M312.11,17.5v4.4M319.24,17.5v2.5M326.36,17.5v4.4M333.49,17.5v2.5M340.62,17.5v8.3M347.75,17.5v2.5M354.88,17.5v4.4M362.00,17.5v2.5M48.37,317.6v-2.7M55.50,317.6v-8.3M62.63,317.6v-2.7M69.76,317.6v-4.3M76.88,317.6v-2.7M84.01,317.6v-4.3M91.14,317.6v-2.7M98.27,317.6v-4.3M105.40,317.6v-2.7M112.52,317.6v-4.3M119.65,317.6v-2.7M126.78,317.6v-8.3M133.91,317.6v-2.7M141.04,317.6v-4.3M148.16,317.6v-2.7M155.29,317.6v-4.3M162.42,317.6v-2.7M169.55,317.6v-4.3M176.68,317.6v-2.7M183.80,317.6v-4.3M190.93,317.6v-2.7M198.06,317.6v-8.3M205.19,317.6v-2.7M212.32,317.6v-4.3M219.44,317.6v-2.7M226.57,317.6v-4.3M233.70,317.6v-2.7M240.83,317.6v-4.3M247.96,317.6v-2.7M255.08,317.6v-4.3M262.21,317.6v-2.7M269.34,317.6v-8.3M276.47,317.6v-2.7M283.60,317.6v-4.3M290.72,317.6v-2.7M297.85,317.6v-4.3M304.98,317.6v-2.7M312.11,317.6v-4.3M319.24,317.6v-2.7M326.36,317.6v-4.3M333.49,317.6v-2.7M340.62,317.6v-8.3M347.75,317.6v-2.7M354.88,317.6v-4.3M362.00,317.6v-2.7M48.37,317.6v1.8M55.50,317.6v5.4M62.63,317.6v1.8M69.76,317.6v2.6M76.88,317.6v1.8M84.01,317.6v2.6M91.14,317.6v1.8M98.27,317.6v2.6M105.40,317.6v1.8M112.52,317.6v2.6M119.65,317.6v1.8M126.78,317.6v5.4M133.91,317.6v1.8M141.04,317.6v2.6M148.16,317.6v1.8M155.29,317.6v2.6M162.42,317.6v1.8M169.55,317.6v2.6M176.68,317.6v1.8M183.80,317.6v2.6M190.93,317.6v1.8M198.06,317.6v5.4M205.19,317.6v1.8M212.32,317.6v2.6M219.44,317.6v1.8M226.57,317.6v2.6M233.70,317.6v1.8M240.83,317.6v2.6M247.96,317.6v1.8M255.08,317.6v2.6M262.21,317.6v1.8M269.34,317.6v5.4M276.47,317.6v1.8M283.60,317.6v2.6M290.72,317.6v1.8M297.85,317.6v2.6M304.98,317.6v1.8M312.11,317.6v2.6M319.24,317.6v1.8M326.36,317.6v2.6M333.49,317.6v1.8M340.62,317.6v5.4M347.75,317.6v1.8M354.88,317.6v2.6M362.00,317.6v1.8M48.37,477.7v-1.6M55.50,477.7v-4.8M62.63,477.7v-1.6M69.76,477.7v-2.9M76.88,477.7v-1.6M84.01,477.7v-2.9M91.14,477.7v-1.6M98.27,477.7v-2.9M105.40,477.7v-1.6M112.52,477.7v-2.9M119.65,477.7v-1.6M126.78,477.7v-4.8M133.91,477.7v-1.6M141.04,477.7v-2.9M148.16,477.7v-1.6M155.29,477.7v-2.9M162.42,477.7v-1.6M169.55,477.7v-2.9M176.68,477.7v-1.6M183.80,477.7v-2.9M190.93,477.7v-1.6M198.06,477.7v-4.8M205.19,477.7v-1.6M212.32,477.7v-2.9M219.44,477.7v-1.6M226.57,477.7v-2.9M233.70,477.7v-1.6M240.83,477.7v-2.9M247.96,477.7v-1.6M255.08,477.7v-2.9M262.21,477.7v-1.6M269.34,477.7v-4.8M276.47,477.7v-1.6M283.60,477.7v-2.9M290.72,477.7v-1.6M297.85,477.7v-2.9M304.98,477.7v-1.6M312.11,477.7v-2.9M319.24,477.7v-1.6M326.36,477.7v-2.9M333.49,477.7v-1.6M340.62,477.7v-4.8M347.75,477.7v-1.6M354.88,477.7v-2.9M362.00,477.7v-1.6" stroke="#000" stroke-width="1.1" fill="none"/><path d="M45.5,311.62h5.5M371.0,311.62h-5.5M45.5,305.04h5.5M371.0,305.04h-5.5M45.5,300.37h5.5M371.0,300.37h-5.5M45.5,296.75h5.5M371.0,296.75h-5.5M45.5,293.79h5.5M371.0,293.79h-5.5M45.5,291.29h5.5M371.0,291.29h-5.5M45.5,289.12h5.5M371.0,289.12h-5.5M45.5,287.21h5.5M371.0,287.21h-5.5M45.5,285.50h11M371.0,285.50h-11M45.5,274.25h5.5M371.0,274.25h-5.5M45.5,267.67h5.5M371.0,267.67h-5.5M45.5,263.00h5.5M371.0,263.00h-5.5M45.5,259.38h5.5M371.0,259.38h-5.5M45.5,256.42h5.5M371.0,256.42h-5.5M45.5,253.92h5.5M371.0,253.92h-5.5M45.5,251.75h5.5M371.0,251.75h-5.5M45.5,249.84h5.5M371.0,249.84h-5.5M45.5,248.13h11M371.0,248.13h-11M45.5,236.88h5.5M371.0,236.88h-5.5M45.5,230.30h5.5M371.0,230.30h-5.5M45.5,225.63h5.5M371.0,225.63h-5.5M45.5,222.01h5.5M371.0,222.01h-5.5M45.5,219.05h5.5M371.0,219.05h-5.5M45.5,216.55h5.5M371.0,216.55h-5.5M45.5,214.38h5.5M371.0,214.38h-5.5M45.5,212.47h5.5M371.0,212.47h-5.5M45.5,210.76h11M371.0,210.76h-11M45.5,199.51h5.5M371.0,199.51h-5.5M45.5,192.93h5.5M371.0,192.93h-5.5M45.5,188.26h5.5M371.0,188.26h-5.5M45.5,184.64h5.5M371.0,184.64h-5.5M45.5,181.68h5.5M371.0,181.68h-5.5M45.5,179.18h5.5M371.0,179.18h-5.5M45.5,177.01h5.5M371.0,177.01h-5.5M45.5,175.10h5.5M371.0,175.10h-5.5M45.5,173.39h11M371.0,173.39h-11M45.5,162.14h5.5M371.0,162.14h-5.5M45.5,155.56h5.5M371.0,155.56h-5.5M45.5,150.89h5.5M371.0,150.89h-5.5M45.5,147.27h5.5M371.0,147.27h-5.5M45.5,144.31h5.5M371.0,144.31h-5.5M45.5,141.81h5.5M371.0,141.81h-5.5M45.5,139.64h5.5M371.0,139.64h-5.5M45.5,137.73h5.5M371.0,137.73h-5.5M45.5,136.02h11M371.0,136.02h-11M45.5,124.77h5.5M371.0,124.77h-5.5M45.5,118.19h5.5M371.0,118.19h-5.5M45.5,113.52h5.5M371.0,113.52h-5.5M45.5,109.90h5.5M371.0,109.90h-5.5M45.5,106.94h5.5M371.0,106.94h-5.5M45.5,104.44h5.5M371.0,104.44h-5.5M45.5,102.27h5.5M371.0,102.27h-5.5M45.5,100.36h5.5M371.0,100.36h-5.5M45.5,98.65h11M371.0,98.65h-11M45.5,87.40h5.5M371.0,87.40h-5.5M45.5,80.82h5.5M371.0,80.82h-5.5M45.5,76.15h5.5M371.0,76.15h-5.5M45.5,72.53h5.5M371.0,72.53h-5.5M45.5,69.57h5.5M371.0,69.57h-5.5M45.5,67.07h5.5M371.0,67.07h-5.5M45.5,64.90h5.5M371.0,64.90h-5.5M45.5,62.99h5.5M371.0,62.99h-5.5M45.5,61.28h11M371.0,61.28h-11M45.5,50.03h5.5M371.0,50.03h-5.5M45.5,43.45h5.5M371.0,43.45h-5.5M45.5,38.78h5.5M371.0,38.78h-5.5M45.5,35.16h5.5M371.0,35.16h-5.5M45.5,32.20h5.5M371.0,32.20h-5.5M45.5,29.70h5.5M371.0,29.70h-5.5M45.5,27.53h5.5M371.0,27.53h-5.5M45.5,25.62h5.5M371.0,25.62h-5.5M45.5,23.91h11M371.0,23.91h-11M45.5,458.49h7.6M371.0,458.49h-7.6M45.5,442.52h5.5M371.0,442.52h-5.5M45.5,429.03h5.5M371.0,429.03h-5.5M45.5,417.34h5.5M371.0,417.34h-5.5M45.5,407.02h5.5M371.0,407.02h-5.5M45.5,397.80h7.6M371.0,397.80h-7.6M45.5,389.46h5.5M371.0,389.46h-5.5M45.5,381.84h5.5M371.0,381.84h-5.5M45.5,374.83h5.5M371.0,374.83h-5.5M45.5,368.34h5.5M371.0,368.34h-5.5M45.5,362.30h7.6M371.0,362.30h-7.6M45.5,356.65h5.5M371.0,356.65h-5.5M45.5,351.34h5.5M371.0,351.34h-5.5M45.5,346.34h5.5M371.0,346.34h-5.5M45.5,341.60h5.5M371.0,341.60h-5.5M45.5,337.11h7.6M371.0,337.11h-7.6M45.5,332.84h5.5M371.0,332.84h-5.5M45.5,328.77h5.5M371.0,328.77h-5.5M45.5,324.88h5.5M371.0,324.88h-5.5M45.5,321.15h5.5M371.0,321.15h-5.5" stroke="#000" stroke-width="1.1" fill="none"/><text x="51" y="14" font-size="12" text-anchor="start" fill="#000" letter-spacing="0.2">13000 GeV pp</text><text x="365" y="14" font-size="12" text-anchor="end" fill="#000" >Z+Jet</text><text font-size="12.2" x="83.4" y="41.6">Toward region, 80 &lt; p<tspan font-size="8.4" x="198.8" y="49.2">T</tspan><tspan font-size="8.8" x="200.2" y="38.6">Z</tspan><tspan x="203.6" y="41.6"> &lt; 120 [GeV], high thrust</tspan></text><text x="39.8" y="28.81" font-size="11" text-anchor="end" fill="#000" >10<tspan font-size="7.4" dy="-4.0" dx="0">2</tspan></text><text x="39.6" y="66.18" font-size="11" text-anchor="end" fill="#000" >10</text><text x="39.6" y="102.65" font-size="11" text-anchor="end" fill="#000" >1</text><text x="40.3" y="140.92" font-size="11" text-anchor="end" fill="#000" >10<tspan font-size="7.4" dy="-4.0" dx="-1.4">–1</tspan></text><text x="40.3" y="178.29" font-size="11" text-anchor="end" fill="#000" >10<tspan font-size="7.4" dy="-4.0" dx="-1.4">–2</tspan></text><text x="40.3" y="215.66" font-size="11" text-anchor="end" fill="#000" >10<tspan font-size="7.4" dy="-4.0" dx="-1.4">–3</tspan></text><text x="40.3" y="253.03" font-size="11" text-anchor="end" fill="#000" >10<tspan font-size="7.4" dy="-4.0" dx="-1.4">–4</tspan></text><text x="40.3" y="290.4" font-size="11" text-anchor="end" fill="#000" >10<tspan font-size="7.4" dy="-4.0" dx="-1.4">–5</tspan></text><text x="38.6" y="341.01" font-size="10.9" text-anchor="end" fill="#000" >2</text><text x="38.6" y="401.7" font-size="10.9" text-anchor="end" fill="#000" >1</text><text x="38.6" y="462.39" font-size="10.9" text-anchor="end" fill="#000" >0.5</text><text x="373.6" y="341.01" font-size="10.9" text-anchor="start" fill="#000" >2</text><text x="373.6" y="401.7" font-size="10.9" text-anchor="start" fill="#000" >1</text><text x="373.6" y="462.39" font-size="10.9" text-anchor="start" fill="#000" >0.5</text><text x="55.5" y="488.9" font-size="10.9" text-anchor="middle" fill="#000" >0</text><text x="126.78" y="488.9" font-size="10.9" text-anchor="middle" fill="#000" >1</text><text x="198.06" y="488.9" font-size="10.9" text-anchor="middle" fill="#000" >2</text><text x="269.34" y="488.9" font-size="10.9" text-anchor="middle" fill="#000" >3</text><text x="340.62" y="488.9" font-size="10.9" text-anchor="middle" fill="#000" >4</text><text x="368" y="502.8" font-size="12" text-anchor="end" fill="#000" >N<tspan font-size="7.2" dy="3.3">ch</tspan><tspan dy="-3.3">/dη dφ</tspan></text><text transform="translate(15,132.5) rotate(-90)" font-size="12">1/N<tspan font-size="7" dy="3">ev</tspan><tspan dy="-3"> dN</tspan><tspan font-size="7" dy="3">ev</tspan><tspan dy="-3">/dN</tspan><tspan font-size="7" dy="3">ch</tspan><tspan dy="-3">/dη dφ</tspan></text><text transform="translate(17.8,397.4) rotate(-90)" font-size="9.4" text-anchor="middle">Ratio to ATLAS</text><text transform="translate(379.5,129) rotate(-90)" font-size="9.7" fill="#666">Rivet 4.1.0, ≥ 3.1M events</text><text transform="translate(380,314.8) rotate(-90)" font-size="9.7" fill="#666">mcplots.cern.ch [arXiv:2401.10621]</text><text x="208" y="301.9" font-size="7.9" text-anchor="middle" fill="#aaa" >(ATLAS_2019_I1736531)</text><rect x="73.35" y="220.95" width="5.7" height="5.7" fill="#000"/><text x="94.2" y="226.8" font-size="9.4" text-anchor="start" fill="#000" >ATLAS</text><path d="M64,236.80H88" stroke="#3a9a28" stroke-width="0.9" stroke-dasharray="3,2"/><rect x="73.60" y="234.20" width="5.2" height="5.2" fill="none" stroke="#3a9a28" stroke-width="1.2"/><text x="94.2" y="239.8" font-size="9.4" text-anchor="start" fill="#000" >Herwig 7.2.1 default</text><path d="M64,249.80H88" stroke="#0000ff" stroke-width="0.9"/><path d="M76.20,246.60L79.00,252.00H73.40Z" fill="#0000ff"/><text x="94.2" y="252.8" font-size="9.4" text-anchor="start" fill="#000" >Pythia 8.315 default</text><path d="M64,262.80H88" stroke="#0099c8" stroke-width="0.9" stroke-dasharray="4,1.5,1,1.5"/><path d="M76.20,266.00L79.00,260.60H73.40Z" fill="#0099c8"/><text x="94.2" y="265.8" font-size="9.4" text-anchor="start" fill="#000" >Pythia 8.315 vincia-default</text><path d="M64,275.80H88" stroke="#ff0000" stroke-width="0.9" stroke-dasharray="1,1.2"/><path d="M76.20,272.60L78.50,275.80L76.20,279.00L73.90,275.80Z" fill="#ff0000"/><text x="94.2" y="278.8" font-size="9.4" text-anchor="start" fill="#000" >Sherpa 2.2.9 default</text></svg></body></html>
